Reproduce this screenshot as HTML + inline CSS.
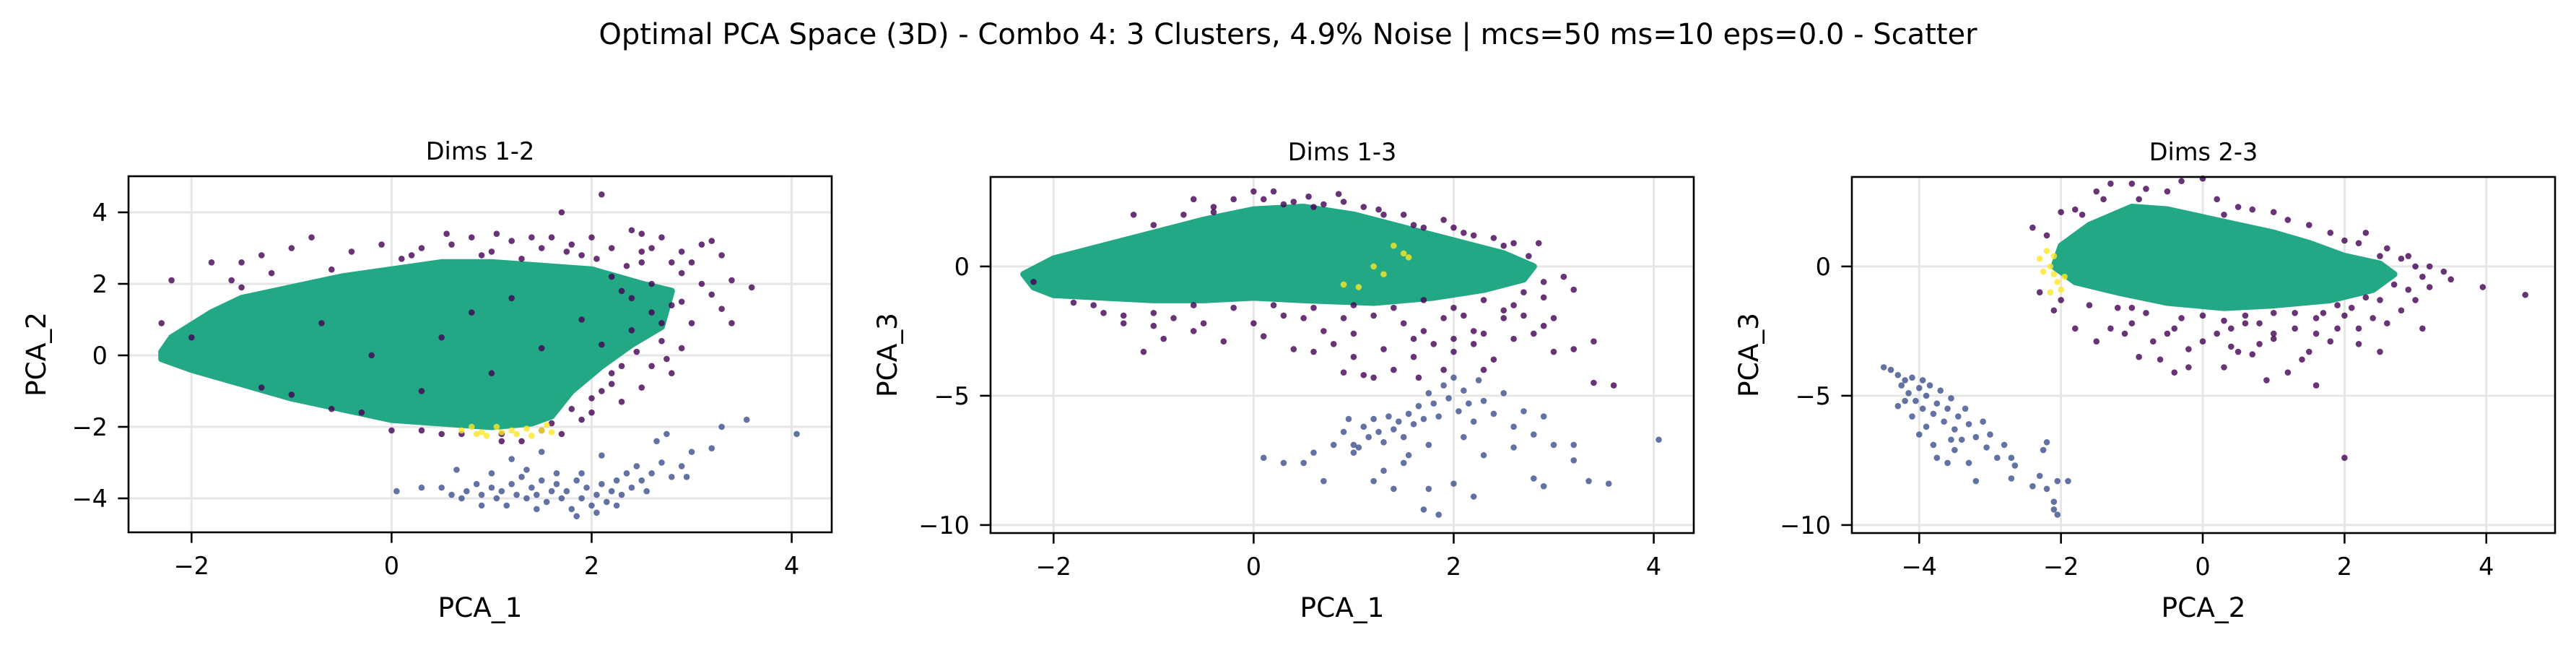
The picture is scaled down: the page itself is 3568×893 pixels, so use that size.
<!DOCTYPE html>
<html><head><meta charset="utf-8"><style>
html,body{margin:0;padding:0;background:#fff;}
svg{display:block;font-family:"DejaVu Sans","Liberation Sans",sans-serif;}
</style></head><body>
<svg id="fig" width="3568" height="893" viewBox="0 0 3568 893" xmlns="http://www.w3.org/2000/svg">
<rect width="3568" height="893" fill="#fff"/>
<text x="1784" y="61" font-size="40" text-anchor="middle">Optimal PCA Space (3D) - Combo 4: 3 Clusters, 4.9% Noise | mcs=50 ms=10 eps=0.0 - Scatter</text>
</svg>
<script>
// ---- data arrays ----
const xTicks12 = [-2, 0, 2, 4];
const yTicks12 = [-4, -2, 0, 2, 4];
const xTicks13 = [-2, 0, 2, 4];
const yTicks13 = [-10, -5, 0];
const xTicks23 = [-4, -2, 0, 2, 4];
const yTicks23 = [-10, -5, 0];

const greenHull12X = [-2.3,-2.2,-1.8,-1.5,-1.0,-0.5,0.0,0.5,1.0,1.5,2.0,2.5,2.8,2.7,2.4,2.1,1.8,1.6,1.4,1.0,0.5,0.0,-0.5,-1.0,-1.5,-2.0,-2.3];
const greenHull12Y = [0.1,0.5,1.2,1.6,1.9,2.2,2.4,2.6,2.6,2.5,2.4,2.0,1.8,0.8,0.3,-0.3,-1.0,-1.7,-1.9,-2.0,-1.9,-1.8,-1.5,-1.2,-0.8,-0.4,-0.1];
const noise12X = [-2.2,-1.8,-1.5,-1.3,-1.0,-0.8,-0.4,-0.1,0.1,0.3,0.55,0.6,0.8,1.05,1.0,1.3,1.4,1.5,1.6,1.7,1.75,1.9,2.0,2.1,2.2,2.4,2.5,2.6,2.7,2.8,2.9,3.0,3.1,3.3,3.4,3.6,3.1,2.9,3.3,3.4,3.0,2.9,2.7,2.8,2.6,2.5,2.3,2.2,2.0,2.0,2.3,1.8,1.7,1.5,1.3,1.1,0.5,0.3,0.0,-0.3,-0.6,-1.0,-1.3,-2.3,-2.0,-1.5,0.5,1.0,1.5,-0.2,0.8,1.9,2.4,0.3,2.6,3.2,2.1,1.2,-0.7,
  2.2,2.3,2.5,2.6,2.7,2.8,2.4,2.2,2.1,1.9,1.6,2.5,2.9,1.8,1.2,0.9,0.2,-0.6,-1.2,-1.6,2.35,2.05,3.2,2.75,2.45,1.1,0.7];
const noise12Y = [2.1,2.6,2.6,2.8,3.0,3.3,2.9,3.1,2.7,3.0,3.4,3.1,3.3,3.4,2.9,2.7,3.3,3.0,3.3,4.0,2.9,2.8,3.3,4.5,3.0,3.5,3.4,3.0,3.3,2.6,2.3,2.6,3.1,2.8,2.1,1.9,2.0,1.5,1.3,0.9,0.9,0.2,0.4,-0.5,-0.3,-0.9,-0.3,-0.8,-1.2,-1.6,-1.3,-1.5,-2.2,-2.1,-2.4,-2.2,-2.2,-2.1,-2.1,-1.6,-1.5,-1.1,-0.9,0.9,0.5,1.9,0.5,-0.5,0.2,0.0,1.2,1.0,1.6,-1.0,2.0,3.2,0.3,1.6,0.9,
  2.2,1.8,2.6,1.2,0.9,1.4,0.7,-0.5,-1.0,-1.8,-1.9,2.9,2.9,3.1,3.2,2.8,2.8,2.4,2.3,2.1,2.5,2.7,1.7,-0.1,0.1,-2.4,-2.2];
const blue12X = [0.05,0.3,0.5,0.65,0.7,0.75,0.85,0.9,1.0,1.05,1.1,1.15,1.2,1.25,1.3,1.35,1.4,1.45,1.5,1.55,1.6,1.65,1.7,1.75,1.8,1.85,1.9,1.95,2.0,2.05,2.1,2.15,2.2,2.25,2.3,2.35,2.4,2.45,2.5,2.6,2.7,2.8,2.9,2.95,2.75,3.0,3.2,3.3,3.55,4.05,1.2,1.5,1.9,2.1,1.0,0.9,1.35,1.65,2.25,1.85,2.05,0.6,1.45,2.55,2.65];
const blue12Y = [-3.8,-3.7,-3.7,-3.2,-4.0,-3.8,-3.6,-3.9,-3.7,-4.0,-3.8,-4.2,-3.6,-3.9,-3.4,-4.0,-3.7,-3.9,-3.5,-4.1,-3.8,-3.6,-4.0,-3.8,-4.3,-3.5,-4.0,-3.7,-4.2,-3.9,-3.6,-4.1,-3.8,-3.5,-3.9,-3.3,-3.7,-3.1,-3.5,-3.3,-3.0,-3.4,-3.1,-3.4,-2.2,-2.7,-2.6,-2.0,-1.8,-2.2,-2.9,-2.7,-3.3,-2.8,-3.3,-4.2,-3.2,-3.3,-4.2,-4.5,-4.4,-3.9,-4.3,-3.8,-2.4];
const yellow12X = [0.7,0.8,0.9,0.95,1.05,1.2,1.25,1.35,1.4,1.5,1.55,1.6,0.85,1.1];
const yellow12Y = [-2.1,-2.0,-2.15,-2.25,-2.0,-2.1,-2.2,-2.05,-2.25,-2.1,-1.95,-2.15,-2.2,-2.15];

const greenHull13X = [-2.3,-2.0,-1.5,-1.0,-0.5,0.0,0.5,1.0,1.5,2.0,2.5,2.8,2.7,2.3,1.8,1.2,0.5,0.0,-0.5,-1.0,-1.5,-2.0,-2.2];
const greenHull13Y = [-0.3,0.3,0.8,1.3,1.8,2.2,2.3,2.0,1.5,1.0,0.5,0.0,-0.5,-0.9,-1.2,-1.4,-1.3,-1.2,-1.3,-1.3,-1.2,-1.1,-0.8];
const noise13X = [-1.2,-1.0,-0.7,-0.6,-0.4,-0.2,0.0,0.1,0.2,0.4,0.55,0.7,0.85,0.9,1.1,1.25,1.5,1.6,1.9,2.0,2.2,2.4,2.6,2.75,2.85,3.1,3.2,2.9,2.6,2.3,2.0,1.7,1.4,1.0,0.6,0.2,-0.2,-0.6,-1.0,-1.3,-1.6,-2.2,-1.1,-0.9,-0.6,-0.3,0.1,0.4,0.6,0.8,1.0,1.1,1.3,1.4,1.6,1.8,2.0,2.2,2.4,2.6,2.8,3.0,3.2,3.4,3.4,3.6,3.0,2.5,1.5,0.5,-0.5,1.9,1.2,0.9,1.65,2.3,
  -1.5,-1.3,-1.0,-0.8,0.0,0.3,0.9,1.2,1.7,1.9,2.1,2.3,2.5,2.7,2.9,2.0,1.0,0.7,1.6,2.2,-0.4,0.3,0.6,1.3,1.7,2.1,2.5,2.9,2.7,-1.8];
const noise13Y = [2.0,1.6,2.0,2.6,2.3,2.6,2.9,2.6,2.9,2.5,2.7,2.4,2.8,2.5,2.3,2.2,2.0,1.6,1.8,1.5,1.2,1.1,0.9,0.4,0.9,-0.4,-0.9,-1.2,-1.5,-1.3,-1.6,-1.3,-1.6,-1.5,-1.6,-1.5,-1.6,-1.5,-1.8,-1.9,-1.5,-0.6,-3.3,-2.8,-2.5,-2.9,-2.7,-3.2,-3.3,-3.0,-3.5,-4.2,-3.2,-4.0,-3.5,-3.0,-3.3,-2.5,-3.6,-2.8,-2.6,-3.3,-3.2,-4.5,-2.9,-4.6,-2.0,-2.0,-2.2,-2.0,-2.2,-4.0,-4.3,-4.1,-4.3,-4.0,
  -1.8,-2.2,-2.3,-2.0,-2.2,-1.9,-2.0,-1.9,-2.5,-2.0,-1.9,-2.6,-1.7,-1.9,-2.3,-2.8,-2.6,-2.5,-2.8,-3.0,2.1,2.4,2.3,2.0,1.5,1.3,0.8,-0.6,-1.0,-1.4];
const blue13X = [0.1,0.3,0.5,0.7,0.6,0.8,0.9,1.0,1.05,1.1,1.15,1.2,1.25,1.3,1.35,1.4,1.45,1.5,1.55,1.6,1.65,1.7,1.75,1.8,1.85,1.9,1.95,2.0,2.05,2.1,2.15,2.2,2.25,2.3,2.4,2.5,2.6,2.7,2.8,2.9,3.0,3.2,3.2,3.35,3.55,2.8,2.9,2.3,2.0,1.85,1.75,2.2,1.7,1.5,1.2,1.4,1.0,2.1,1.75,1.55,0.95,4.05,2.6,1.3];
const blue13Y = [-7.4,-7.6,-7.6,-8.3,-7.2,-6.9,-6.4,-6.9,-7.0,-6.2,-6.6,-5.9,-6.4,-6.8,-5.8,-6.3,-6.0,-6.6,-5.7,-6.1,-5.4,-5.9,-4.9,-5.3,-5.8,-4.6,-5.1,-4.3,-5.6,-4.8,-5.3,-6.0,-4.4,-5.2,-5.7,-4.9,-6.2,-5.6,-6.5,-5.8,-6.9,-6.9,-7.5,-8.3,-8.4,-8.2,-8.5,-7.3,-8.4,-9.6,-8.6,-8.9,-9.4,-7.6,-8.3,-8.6,-7.2,-6.6,-6.9,-7.3,-5.9,-6.7,-7.0,-7.9];
const yellow13X = [1.2,1.3,0.9,1.05,1.5,1.4,1.55];
const yellow13Y = [0.0,-0.3,-0.7,-0.8,0.5,0.8,0.35];

const greenHull23X = [-2.1,-2.0,-1.6,-1.0,-0.5,0.0,0.5,1.0,1.5,2.0,2.5,2.7,2.4,1.8,1.0,0.3,-0.5,-1.2,-1.8];
const greenHull23Y = [0.0,0.8,1.6,2.3,2.2,1.9,1.6,1.3,0.9,0.4,0.1,-0.3,-0.9,-1.3,-1.5,-1.6,-1.4,-1.0,-0.6];
const noise23X = [-2.4,-2.2,-2.0,-1.8,-1.5,-1.3,-1.0,-0.8,-0.5,-0.3,0.0,0.2,0.5,0.7,1.0,1.2,1.5,1.8,2.0,2.3,2.5,2.8,3.0,3.2,3.4,3.5,3.2,3.0,2.8,2.6,2.4,2.2,2.0,1.8,1.6,1.5,1.3,1.0,0.8,0.6,0.4,0.2,0.0,-0.2,-0.5,-0.7,-0.9,-1.1,-1.3,-1.5,-1.8,-2.1,-2.0,-2.3,-0.4,-0.2,0.3,0.5,0.7,0.9,1.2,1.6,2.0,3.1,3.95,4.55,1.9,1.0,0.0,-1.0,2.7,-0.6,1.4,2.5,
  -1.6,-1.2,-0.8,-0.3,0.3,0.6,0.8,1.3,1.7,2.1,2.3,2.5,2.9,3.1,2.9,2.6,2.2,1.0,1.6,0.4,-0.4,-1.0,-1.4,-1.7,0.3,-0.9,1.9,2.2];
const noise23Y = [1.5,1.2,2.1,2.2,2.9,3.2,3.2,3.0,2.9,3.3,3.4,2.6,2.3,2.2,2.1,1.8,1.6,1.3,1.0,1.3,0.4,0.3,0.0,0.0,-0.2,-0.5,-0.8,-1.3,-1.7,-2.2,-2.0,-2.4,-1.9,-2.9,-2.0,-3.3,-2.4,-2.6,-3.0,-2.2,-3.1,-2.6,-2.9,-3.2,-2.6,-2.9,-3.5,-2.6,-2.4,-2.9,-2.4,-1.7,-1.3,-1.0,-4.1,-3.9,-3.9,-3.3,-3.4,-4.4,-4.1,-4.6,-7.4,-2.4,-0.8,-1.1,-1.5,-1.8,-1.9,-1.6,-0.7,-3.6,-3.6,-3.3,
  -1.5,-1.6,-1.8,-2.0,-2.1,-1.9,-2.2,-1.8,-1.8,-1.6,-1.2,-1.3,-0.9,-0.4,0.4,0.7,0.9,-2.8,-2.6,-2.4,-2.4,-2.2,2.6,2.0,2.0,2.6,-2.4,-3.0];
const blue23X = [-4.5,-4.4,-4.3,-4.25,-4.2,-4.15,-4.1,-4.05,-4.0,-3.95,-3.9,-3.85,-3.8,-3.75,-3.7,-3.65,-3.6,-3.55,-3.5,-3.45,-3.4,-3.35,-3.3,-3.2,-3.1,-3.05,-3.0,-2.9,-2.8,-2.7,-2.65,-2.7,-2.4,-2.25,-2.2,-2.3,-2.1,-2.05,-2.1,-2.05,-1.9,-2.2,-3.2,-3.75,-3.6,-3.9,-4.1,-4.3,-3.8,-3.5,-4.0,-3.3,-3.55,-4.2,-3.95];
const blue23Y = [-3.9,-4.0,-4.2,-4.6,-4.4,-4.9,-4.3,-5.2,-4.7,-5.5,-5.0,-4.6,-5.7,-5.3,-4.8,-6.0,-5.5,-5.1,-6.3,-5.8,-6.7,-5.5,-6.1,-6.6,-6.0,-7.0,-6.5,-7.4,-6.9,-7.4,-7.7,-8.2,-8.5,-7.1,-8.6,-8.1,-9.1,-9.6,-9.4,-8.3,-8.3,-6.8,-8.3,-7.4,-7.6,-6.2,-5.8,-5.4,-6.9,-7.1,-6.5,-7.6,-6.7,-5.2,-4.4];
const yellow23X = [-2.3,-2.2,-2.15,-2.1,-2.05,-2.0,-2.15,-1.95,-2.25,-2.1];
const yellow23Y = [0.3,0.6,0.0,-0.3,-0.6,-0.9,-1.0,-0.4,-0.2,0.4];

// ---- rendering ----
const NS = 'http://www.w3.org/2000/svg';
const svg = document.getElementById('fig');
const COL = {noise:'#440154', blue:'#3b4f8c', green:'#22a884', yellow:'#fde725'};
function mk(tag, attrs, parent){const e=document.createElementNS(NS,tag);for(const k in attrs)e.setAttribute(k,attrs[k]);(parent||svg).appendChild(e);return e;}
function fmt(v){return v<0?'\u2212'+Math.abs(v):String(v);}

function panel(p){
  const g = mk('g',{});
  
  
  const sx = v => p.L + (v - p.x0)/(p.x1 - p.x0)*(p.R - p.L);
  const sy = v => p.B - (v - p.y0)/(p.y1 - p.y0)*(p.B - p.T);
  p.xt.forEach(t=>{const l=mk('line',{x1:sx(t),x2:sx(t),y1:p.T,y2:p.B,stroke:'#e6e6e6','stroke-width':3},g);
    
    });
  p.yt.forEach(t=>{const l=mk('line',{x1:p.L,x2:p.R,y1:sy(t),y2:sy(t),stroke:'#e6e6e6','stroke-width':3},g);
    
    });
  const pts = p.hx.map((x,i)=>sx(x)+','+sy(p.hy[i])).join(' ');
  const hull = mk('polygon',{points:pts,fill:COL.green,stroke:COL.green,'stroke-width':9,'stroke-linejoin':'round'},g);
  
  
  function dots(xs,ys,col,nm){
    const dg = mk('g',{},g);
    
    
    xs.forEach((x,i)=>{const c=mk('circle',{cx:sx(x),cy:sy(ys[i]),r:4.3,fill:col,'fill-opacity':0.8},dg);
      
      });
  }
  dots(p.nx,p.ny,COL.noise,'noise-points');
  dots(p.bx,p.by,COL.blue,'cluster-0-points');
  dots(p.yx,p.yy,COL.yellow,'cluster-1-points');
  const fr = mk('rect',{x:p.L,y:p.T,width:p.R-p.L,height:p.B-p.T,fill:'none',stroke:'#000','stroke-width':2.6},g);
  
  
  p.xt.forEach(t=>{
    mk('line',{x1:sx(t),x2:sx(t),y1:p.B,y2:p.B+14.6,stroke:'#000','stroke-width':2.6},g);
    const tx = mk('text',{x:sx(t),y:p.B+58,'font-size':33.5,'text-anchor':'middle'},g);
    tx.textContent = fmt(t);
    
    
  });
  p.yt.forEach(t=>{
    mk('line',{x1:p.L-14.6,x2:p.L,y1:sy(t),y2:sy(t),stroke:'#000','stroke-width':2.6},g);
    const tx = mk('text',{x:p.L-29,y:sy(t)+12,'font-size':33.5,'text-anchor':'end'},g);
    tx.textContent = fmt(t);
    
    
  });
  const cx = (p.L+p.R)/2;
  const tt = mk('text',{x:cx,y:p.T-23,'font-size':33.5,'text-anchor':'middle'},g);
  tt.textContent = p.title;
  
  
  const xl = mk('text',{x:cx,y:854,'font-size':37.5,'text-anchor':'middle'},g);
  xl.textContent = p.xlab;
  
  
  const ym = (p.T+p.B)/2;
  const yl = mk('text',{x:p.L-p.ylOff,y:ym,'font-size':37.5,'text-anchor':'middle',transform:`rotate(-90 ${p.L-p.ylOff} ${ym})`},g);
  yl.textContent = p.ylab;
  
  
}

panel({name:'panel-dims-1-2',L:178,R:1152,T:244,B:737,x0:-2.63,x1:4.40,y0:-4.95,y1:5.01,xt:xTicks12,yt:yTicks12,
  hx:greenHull12X,hy:greenHull12Y,nx:noise12X,ny:noise12Y,bx:blue12X,by:blue12Y,yx:yellow12X,yy:yellow12Y,
  title:'Dims 1-2',xlab:'PCA_1',ylab:'PCA_2',ylOff:115});
panel({name:'panel-dims-1-3',L:1372,R:2346,T:245,B:738,x0:-2.63,x1:4.40,y0:-10.31,y1:3.46,xt:xTicks13,yt:yTicks13,
  hx:greenHull13X,hy:greenHull13Y,nx:noise13X,ny:noise13Y,bx:blue13X,by:blue13Y,yx:yellow13X,yy:yellow13Y,
  title:'Dims 1-3',xlab:'PCA_1',ylab:'PCA_3',ylOff:130});
panel({name:'panel-dims-2-3',L:2565,R:3539,T:245,B:738,x0:-4.95,x1:4.97,y0:-10.31,y1:3.46,xt:xTicks23,yt:yTicks23,
  hx:greenHull23X,hy:greenHull23Y,nx:noise23X,ny:noise23Y,bx:blue23X,by:blue23Y,yx:yellow23X,yy:yellow23Y,
  title:'Dims 2-3',xlab:'PCA_2',ylab:'PCA_3',ylOff:130});
</script>
</body></html>
